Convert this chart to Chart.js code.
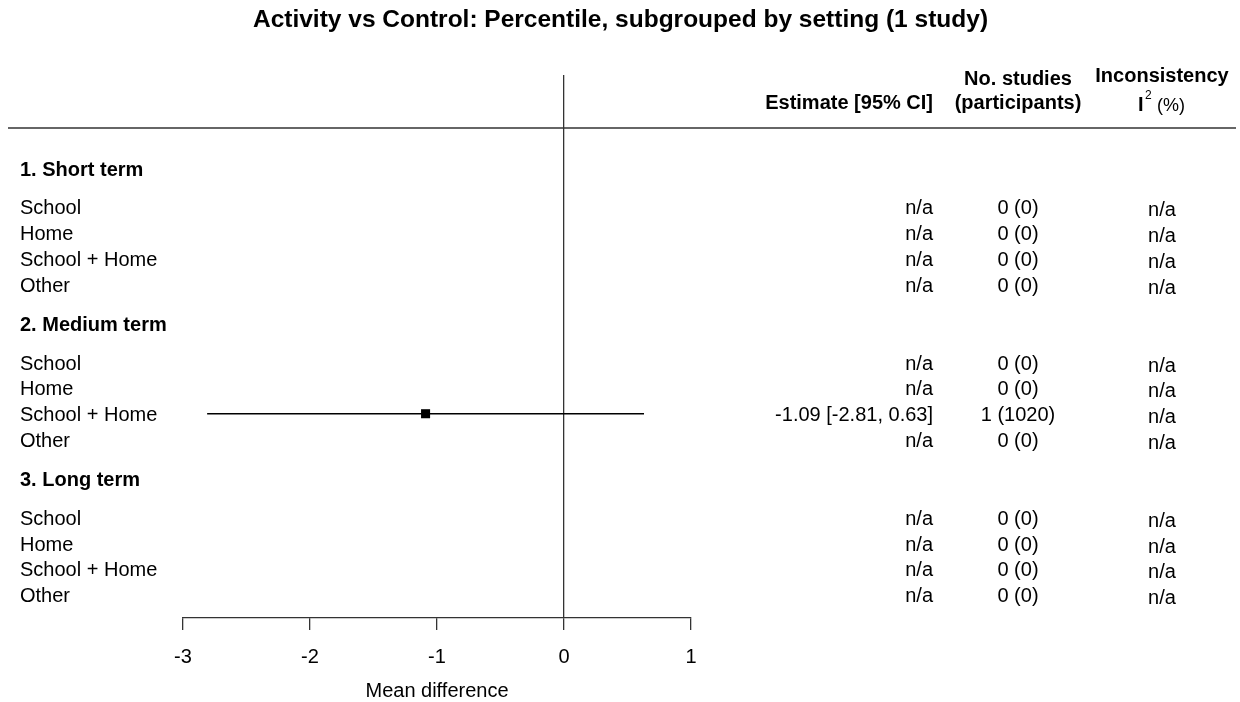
<!DOCTYPE html>
<html>
<head>
<meta charset="utf-8">
<script src="https://cdn.jsdelivr.net/npm/chart.js@4/dist/chart.umd.min.js"></script>
<style>
  html, body { margin: 0; padding: 0; background: #fff; }
  #wrap { width: 1240px; height: 702px; }
</style>
</head>
<body>
<div id="wrap"><canvas id="forest" width="1240" height="702"></canvas></div>
<script>
// ---- data ----
const chartTitle = 'Activity vs Control: Percentile, subgrouped by setting (1 study)';
const groups = ['1. Short term', '2. Medium term', '3. Long term'];
const settings = ['School', 'Home', 'School + Home', 'Other'];
// one value per group x setting, in reading order (null = not estimable)
const estimate     = [null, null, null, null,  null, null, -1.09, null,  null, null, null, null];
const ciLower      = [null, null, null, null,  null, null, -2.81, null,  null, null, null, null];
const ciUpper      = [null, null, null, null,  null, null,  0.63, null,  null, null, null, null];
const nStudies     = [0, 0, 0, 0,  0, 0, 1, 0,  0, 0, 0, 0];
const participants = [0, 0, 0, 0,  0, 0, 1020, 0,  0, 0, 0, 0];
const iSquared     = [null, null, null, null,  null, null, null, null,  null, null, null, null];
const xTicks = [-3, -2, -1, 0, 1];
const xTitle = 'Mean difference';

// ---- row layout (in row units, top to bottom) ----
const headerRow = g => g * 6;
const settingRow = (g, s) => g * 6 + 1.5 + s;

const FONT = '"Liberation Sans", Arial, sans-serif';
const TEXT_DY = 2; // optical centring of text on its row

const rows = [];
groups.forEach((g, gi) => settings.forEach((s, si) => {
  const i = gi * settings.length + si;
  rows.push({ g: gi, label: s, y: settingRow(gi, si), est: estimate[i], lo: ciLower[i], hi: ciUpper[i],
              k: nStudies[i], n: participants[i], i2: iSquared[i] });
}));

const datasets = [];
rows.filter(r => r.est !== null).forEach(r => {
  datasets.push({
    type: 'line',
    data: [{ x: r.lo, y: r.y }, { x: r.hi, y: r.y }],
    borderColor: '#000', borderWidth: 1.3, pointRadius: 0, fill: false, order: 2
  });
});
datasets.push({
  type: 'scatter',
  data: rows.filter(r => r.est !== null).map(r => ({ x: r.est, y: r.y })),
  pointStyle: 'rect', pointRadius: 6.4, backgroundColor: '#000', borderColor: '#000', borderWidth: 0, order: 1
});

const fmt = v => v.toFixed(2);

const textPlugin = {
  id: 'forestText',
  afterDraw(chart) {
    const ctx = chart.ctx;
    const yScale = chart.scales.y;
    const py = v => yScale.getPixelForValue(v) + TEXT_DY;
    ctx.save();
    ctx.fillStyle = '#000';
    ctx.textBaseline = 'middle';

    // title
    ctx.font = 'bold 24.5px ' + FONT;
    ctx.textAlign = 'center';
    ctx.fillText(chartTitle, 620.5, 20);

    // column headers
    ctx.font = 'bold 20px ' + FONT;
    ctx.textAlign = 'right';
    ctx.fillText('Estimate [95% CI]', 933, 103);
    ctx.textAlign = 'center';
    ctx.fillText('No. studies', 1018, 79);
    ctx.fillText('(participants)', 1018, 103);
    ctx.fillText('Inconsistency', 1162, 76);
    // I² (%)
    ctx.textAlign = 'left';
    ctx.font = 'bold 20px ' + FONT;
    ctx.fillText('I', 1138, 105);
    ctx.font = '12px ' + FONT;
    ctx.fillText('2', 1145, 96);
    ctx.font = '18px ' + FONT;
    ctx.fillText('(%)', 1157, 106);

    // header rule
    ctx.strokeStyle = '#333';
    ctx.lineWidth = 1.5;
    ctx.beginPath();
    ctx.moveTo(8, 128);
    ctx.lineTo(1236, 128);
    ctx.stroke();

    // group headings
    ctx.font = 'bold 20px ' + FONT;
    ctx.textAlign = 'left';
    groups.forEach((g, gi) => ctx.fillText(g, 20, py(headerRow(gi))));

    // rows
    ctx.font = '20px ' + FONT;
    rows.forEach(r => {
      const y = py(r.y);
      ctx.textAlign = 'left';
      ctx.fillText(r.label, 20, y);
      ctx.textAlign = 'right';
      ctx.fillText(r.est === null ? 'n/a' : `${fmt(r.est)} [${fmt(r.lo)}, ${fmt(r.hi)}]`, 933, y);
      ctx.textAlign = 'center';
      ctx.fillText(`${r.k} (${r.n})`, 1018, y);
      ctx.fillText(r.i2 === null ? 'n/a' : String(r.i2), 1162, y + 2);
    });
    ctx.restore();
  }
};

new Chart(document.getElementById('forest'), {
  data: { datasets },
  options: {
    responsive: false,
    animation: false,
    devicePixelRatio: 1,
    layout: { padding: { left: 183, right: 549, top: 75, bottom: 0 } },
    plugins: { legend: { display: false }, tooltip: { enabled: false }, title: { display: false } },
    scales: {
      x: {
        type: 'linear',
        min: xTicks[0],
        max: xTicks[xTicks.length - 1],
        afterBuildTicks: s => { s.ticks = xTicks.map(v => ({ value: v })); },
        afterFit: s => { s.height = 84; },
        ticks: { color: '#000', font: { family: FONT, size: 20 }, padding: 15, maxRotation: 0 },
        grid: {
          drawOnChartArea: true,
          color: c => (c.tick && c.tick.value === 0 ? '#333' : 'rgba(0,0,0,0)'),
          tickColor: '#333',
          tickLength: 12,
          lineWidth: 1.3
        },
        border: { display: true, color: '#333', width: 1.3 },
        title: { display: true, text: xTitle, color: '#000', font: { family: FONT, size: 20 }, padding: { top: 0, bottom: -1 } }
      },
      y: {
        type: 'linear',
        display: false,
        reverse: true,
        min: -3.6,
        max: 17.4
      }
    }
  },
  plugins: [textPlugin]
});
</script>
</body>
</html>
